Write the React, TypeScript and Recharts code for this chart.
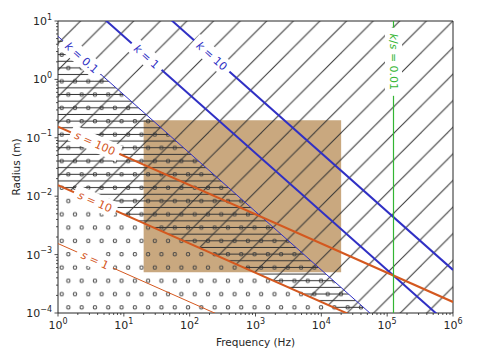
import React from 'react';
import { ComposedChart, XAxis, YAxis, Area, Line, ReferenceArea } from 'recharts';

// Line end points at f = 1 Hz and f = 1 MHz (radius in metres)
const FREQ_ENDS = [1, 1e6];
const K01 = [5.46, 5.46e-6];
const K1 = [54.6, 5.46e-5];
const K10 = [546, 5.46e-4];
const S1 = [1.545e-3, 1.545e-6];
const S10 = [1.545e-2, 1.545e-5];
const S100 = [1.545e-1, 1.545e-4];
const RADIUS_CEIL = 100;
const RADIUS_FLOOR = 1e-7;

// Shaded band
const BAND_FREQ = [20, 2e4];
const BAND_RADIUS = [5e-4, 0.2];

// k/s = 0.01 boundary
const RATIO_FREQ = 1.248e5;
const RATIO_LABEL_R = 2.0;

// Axis ticks
const X_MAJOR = [1, 10, 100, 1e3, 1e4, 1e5, 1e6];
const X_EXP = ['0', '1', '2', '3', '4', '5', '6'];
const Y_MAJOR = [1e-4, 1e-3, 1e-2, 1e-1, 1, 10];
const Y_EXP = ['\u22124', '\u22123', '\u22122', '\u22121', '0', '1'];
const MINOR_STEPS = [2, 3, 4, 5, 6, 7, 8, 9];

// Inline line labels: value, position on the line, box width
const K_LABELS = [
  { value: '0.1', f: 2.3, r: 2.37, w: 50 },
  { value: '1', f: 22.2, r: 2.46, w: 40 },
  { value: '10', f: 217, r: 2.52, w: 47 },
];
const S_LABELS = [
  { value: '100', f: 3.65, r: 0.0809, w: 53 },
  { value: '10', f: 3.65, r: 0.00809, w: 46 },
  { value: '1', f: 3.65, r: 0.000809, w: 39 },
];

const W = 503;
const H = 352;
const MARGIN = { top: 21, right: 50, left: 0, bottom: 0 };
const Y_AXIS_W = 58;
const X_AXIS_H = 39;
const PLOT_W = W - MARGIN.right - Y_AXIS_W;
const PLOT_H = H - MARGIN.top - X_AXIS_H;

const BLUE = '#3030c4';
const ORANGE = '#d4581f';
const GREEN = '#33b533';
const TAN = '#c9a87f';
const INK = '#262626';
const FONT = 'DejaVu Sans, sans-serif';

const decX = PLOT_W / 6;
const decY = PLOT_H / 5;
const K_ANGLE = (Math.atan(decY / decX) * 180) / Math.PI;
const S_ANGLE = (Math.atan((0.5 * decY) / decX) * 180) / Math.PI;

const withMinor = (majors: number[]) => {
  const out: number[] = [];
  majors.forEach((m, i) => {
    out.push(m);
    if (i < majors.length - 1) MINOR_STEPS.forEach((s) => out.push(m * s));
  });
  return out;
};
const X_TICKS = withMinor(X_MAJOR);
const Y_TICKS = withMinor(Y_MAJOR);

const isMajor = (list: number[], v: number) =>
  list.findIndex((m) => Math.abs(Math.log10(m) - Math.log10(v)) < 1e-6);

const rows: any[] = [];
FREQ_ENDS.forEach((f, i) => {
  rows.push({
    f,
    k01: K01[i],
    k1: K1[i],
    k10: K10[i],
    s1: S1[i],
    s10: S10[i],
    s100: S100[i],
    diag: [S10[i], RADIUS_CEIL],
    dots: [RADIUS_FLOOR, K01[i]],
    horiz: [S10[i], K01[i]],
  });
});
BAND_FREQ.forEach((f) => rows.push({ f, band: BAND_RADIUS }));
rows.sort((a, b) => a.f - b.f);

const ratioLine = [
  { f: RATIO_FREQ, r: RADIUS_FLOOR },
  { f: RATIO_FREQ, r: RADIUS_CEIL },
];

const labelPoints = [
  ...K_LABELS.map((l) => ({ f: l.f, r: l.r, name: 'k', value: l.value, color: BLUE, angle: K_ANGLE, w: l.w })),
  ...S_LABELS.map((l) => ({ f: l.f, r: l.r, name: 's', value: l.value, color: ORANGE, angle: S_ANGLE, w: l.w })),
  { f: RATIO_FREQ, r: RATIO_LABEL_R, name: 'k/s', value: '0.01', color: GREEN, angle: 90, w: 68 },
].sort((a, b) => a.f - b.f);

const XTick = (p: any) => {
  const v = p.payload.value;
  const idx = isMajor(X_MAJOR, v);
  const major = idx >= 0;
  return (
    <g>
      <line x1={p.x} x2={p.x} y1={p.y} y2={p.y + (major ? 3.5 : 2)} stroke={INK} strokeWidth={0.8} />
      {major && (
        <text x={p.x} y={p.y + 16} textAnchor="middle" fontSize={11} fill={INK} fontFamily={FONT}>
          10
          <tspan dy={-5.5} fontSize={8}>
            {X_EXP[idx]}
          </tspan>
        </text>
      )}
    </g>
  );
};

const YTick = (p: any) => {
  const v = p.payload.value;
  const idx = isMajor(Y_MAJOR, v);
  const major = idx >= 0;
  return (
    <g>
      <line x1={p.x} x2={p.x - (major ? 3.5 : 2)} y1={p.y} y2={p.y} stroke={INK} strokeWidth={0.8} />
      {major && (
        <text x={p.x - 6} y={p.y + 4} textAnchor="end" fontSize={11} fill={INK} fontFamily={FONT}>
          10
          <tspan dy={-5.5} fontSize={8}>
            {Y_EXP[idx]}
          </tspan>
        </text>
      )}
    </g>
  );
};

const italic = (s: string) => <tspan fontStyle="italic">{s}</tspan>;

// Inline label with a white box that breaks the line underneath it
const LineLabel = (p: any) => {
  const d = p.payload;
  if (d == null || p.cx == null || p.cy == null) return <g key={p.index} />;
  const name =
    d.name === 'k/s' ? (
      <>
        {italic('k')}/{italic('s')}
      </>
    ) : (
      italic(d.name)
    );
  return (
    <g key={'lbl' + p.index} transform={`translate(${p.cx},${p.cy}) rotate(${d.angle})`}>
      <rect x={-d.w / 2} y={-8.5} width={d.w} height={17} fill="#fff" />
      <text x={0} y={0} dy="0.36em" textAnchor="middle" fontSize={11} fill={d.color} fontFamily={FONT}>
        {name}
        {' = ' + d.value}
      </text>
    </g>
  );
};

export default function App() {
  return (
    <div style={{ position: 'absolute', left: 0, top: 0, width: W, height: H, background: '#fff' }}>
      <ComposedChart width={W} height={H} data={rows} margin={MARGIN}>
        <defs>
          <pattern id="hatchDiag" patternUnits="userSpaceOnUse" width={26.6} height={26.6} x={-4.9} y={0}>
            <line x1={0} y1={26.6} x2={26.6} y2={0} stroke="#333" strokeWidth={1} />
            <line x1={-13.3} y1={13.3} x2={13.3} y2={-13.3} stroke="#333" strokeWidth={1} />
            <line x1={13.3} y1={39.9} x2={39.9} y2={13.3} stroke="#333" strokeWidth={1} />
          </pattern>
          <pattern id="hatchHoriz" patternUnits="userSpaceOnUse" width={13.3} height={6.65} x={0} y={-1.9}>
            <line x1={0} y1={3.3} x2={13.3} y2={3.3} stroke="#333" strokeWidth={1} />
          </pattern>
          <pattern id="hatchDots" patternUnits="userSpaceOnUse" width={13.3} height={26.6} x={1.85} y={21.45}>
            <circle cx={6.65} cy={6.65} r={1.7} fill="none" stroke="#444" strokeWidth={1} />
            <circle cx={0} cy={19.95} r={1.7} fill="none" stroke="#444" strokeWidth={1} />
            <circle cx={13.3} cy={19.95} r={1.7} fill="none" stroke="#444" strokeWidth={1} />
          </pattern>
        </defs>
        <XAxis
          dataKey="f"
          type="number"
          scale="log"
          domain={[FREQ_ENDS[0], FREQ_ENDS[1]]}
          allowDataOverflow
          ticks={X_TICKS}
          interval={0}
          tick={XTick}
          tickLine={false}
          axisLine={false}
          tickSize={0}
          tickMargin={0}
          height={X_AXIS_H}
          label={{
            content: (p: any) => {
              const vb = p.viewBox;
              return (
                <text x={vb.x + vb.width / 2} y={vb.y + vb.height - 6} textAnchor="middle" fontSize={10.5} fill={INK} fontFamily={FONT}>
                  Frequency (Hz)
                </text>
              );
            },
          }}
        />
        <YAxis
          type="number"
          scale="log"
          domain={[Y_MAJOR[0], Y_MAJOR[Y_MAJOR.length - 1]]}
          allowDataOverflow
          ticks={Y_TICKS}
          interval={0}
          tick={YTick}
          tickLine={false}
          axisLine={false}
          tickSize={0}
          tickMargin={0}
          width={Y_AXIS_W}
          label={{
            content: (p: any) => {
              const vb = p.viewBox;
              return (
                <text
                  transform={`translate(${vb.x + 16},${vb.y + vb.height / 2}) rotate(-90)`}
                  textAnchor="middle"
                  dy="0.36em"
                  fontSize={10.5}
                  fill={INK}
                  fontFamily={FONT}
                >
                  Radius (m)
                </text>
              );
            },
          }}
        />
        <Area dataKey="band" type="linear" fill={TAN} fillOpacity={1} stroke="none" connectNulls isAnimationActive={false} />
        <Area dataKey="dots" type="linear" fill="url(#hatchDots)" fillOpacity={1} stroke="none" connectNulls isAnimationActive={false} />
        <Area dataKey="horiz" type="linear" fill="url(#hatchHoriz)" fillOpacity={1} stroke="none" connectNulls isAnimationActive={false} />
        <Area dataKey="diag" type="linear" fill="url(#hatchDiag)" fillOpacity={1} stroke="none" connectNulls isAnimationActive={false} />
        <Line dataKey="k01" type="linear" stroke={BLUE} strokeWidth={1} dot={false} connectNulls isAnimationActive={false} />
        <Line dataKey="k1" type="linear" stroke={BLUE} strokeWidth={2} dot={false} connectNulls isAnimationActive={false} />
        <Line dataKey="k10" type="linear" stroke={BLUE} strokeWidth={2} dot={false} connectNulls isAnimationActive={false} />
        <Line dataKey="s1" type="linear" stroke={ORANGE} strokeWidth={1} dot={false} connectNulls isAnimationActive={false} />
        <Line dataKey="s10" type="linear" stroke={ORANGE} strokeWidth={2} dot={false} connectNulls isAnimationActive={false} />
        <Line dataKey="s100" type="linear" stroke={ORANGE} strokeWidth={2} dot={false} connectNulls isAnimationActive={false} />
        <Line data={ratioLine} dataKey="r" type="linear" stroke={GREEN} strokeWidth={1.2} dot={false} isAnimationActive={false} />
        <Line
          data={labelPoints}
          dataKey="r"
          type="linear"
          stroke="none"
          strokeWidth={0}
          dot={LineLabel}
          activeDot={false}
          isAnimationActive={false}
        />
        <ReferenceArea
          x1={FREQ_ENDS[0]}
          x2={FREQ_ENDS[1]}
          y1={Y_MAJOR[0]}
          y2={Y_MAJOR[Y_MAJOR.length - 1]}
          fill="none"
          stroke={INK}
          strokeWidth={1}
        />
      </ComposedChart>
    </div>
  );
}
